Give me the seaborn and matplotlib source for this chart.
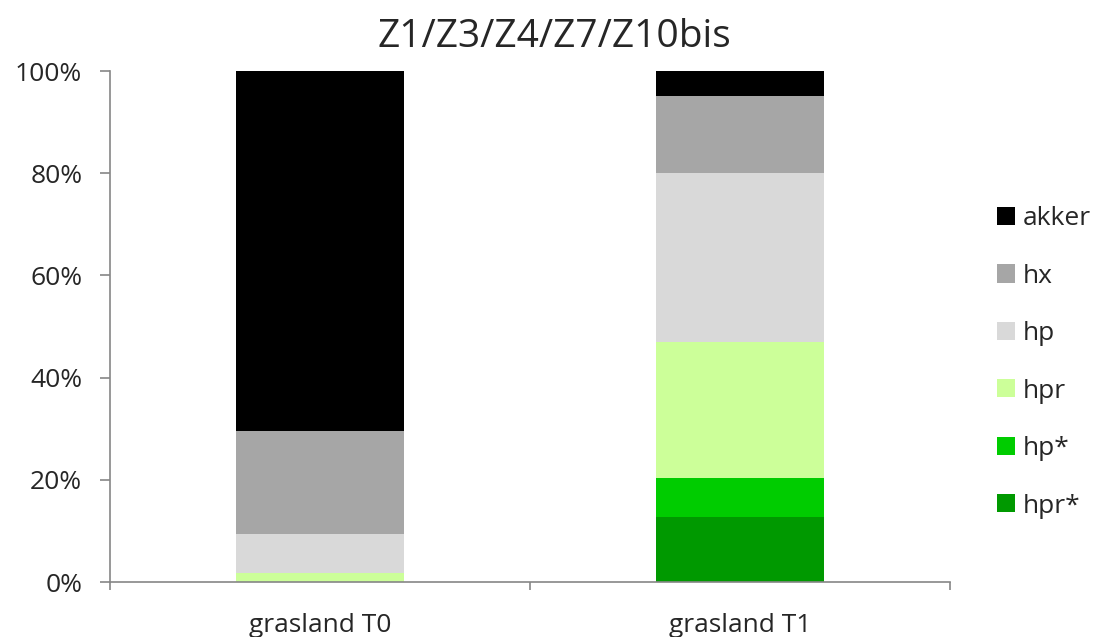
import numpy as np
import pandas as pd
import matplotlib
matplotlib.use("Agg")
import matplotlib.pyplot as plt
import seaborn as sns
from matplotlib.patches import Patch
from matplotlib.ticker import PercentFormatter

# data (percent of area, bottom to top)
groups = ["grasland T0", "grasland T1"]
classes = ["hpr*", "hp*", "hpr", "hp", "hx", "akker"]
hpr_star = [0.0, 12.8]
hp_star = [0.0, 7.6]
hpr = [1.7, 26.6]
hp = [7.7, 33.1]
hx = [20.2, 15.1]
akker = [70.4, 4.8]
colors = {"akker": "#000000", "hx": "#A6A6A6", "hp": "#D9D9D9",
          "hpr": "#CCFF99", "hp*": "#00CC00", "hpr*": "#009900"}

df = pd.DataFrame({"group": groups, "hpr*": hpr_star, "hp*": hp_star, "hpr": hpr,
                   "hp": hp, "hx": hx, "akker": akker})
cum = df[classes].cumsum(axis=1)
cum["group"] = df["group"]

sns.set_style("white")
plt.rcParams["font.family"] = ["Open Sans", "DejaVu Sans"]

fig = plt.figure(figsize=(10.96, 6.37), dpi=100)
ax = fig.add_axes([0.1004, 0.0863, 0.7664, 0.8022])

# stacked bars: draw cumulative totals from the top class down
for c in classes[::-1]:
    sns.barplot(data=cum, x="group", y=c, color=colors[c], width=0.4,
                saturation=1, ax=ax, linewidth=0)

ax.set_ylim(0, 100)
ax.set_xlim(-0.5, 1.5)
ax.set_yticks(range(0, 101, 20))
ax.yaxis.set_major_formatter(PercentFormatter(decimals=0))
ax.set_xlabel("")
ax.set_ylabel("")
for s in ["top", "right"]:
    ax.spines[s].set_visible(False)
for s in ["left", "bottom"]:
    ax.spines[s].set_color("#868686")
    ax.spines[s].set_linewidth(1.2)

ax.tick_params(axis="y", length=7, width=1.2, color="#868686", labelsize=19, pad=13,
               left=True, direction="out")
# category ticks sit between categories, labels under bars
ax.set_xticks([-0.5, 0.5, 1.5], minor=False)
ax.set_xticklabels([])
ax.tick_params(axis="x", which="major", length=6, width=1.2, color="#868686", bottom=True,
               direction="out")
ax.set_xticks([0, 1], minor=True)
ax.set_xticklabels(groups, minor=True)
ax.tick_params(axis="x", which="minor", length=0, labelsize=19, pad=22)

handles = [Patch(facecolor=colors[c], edgecolor="none", label=c) for c in classes[::-1]]
fig.legend(handles=handles, loc="center left", bbox_to_anchor=(0.9097, 0.431), frameon=False,
           fontsize=19, handlelength=0.68, handleheight=0.68, handletextpad=0.3,
           labelspacing=1.23, borderaxespad=0, borderpad=0)

fig.text(0.506, 0.926, "Z1/Z3/Z4/Z7/Z10bis", ha="center", va="baseline", fontsize=28)

fig.savefig("out.png", dpi=100)
